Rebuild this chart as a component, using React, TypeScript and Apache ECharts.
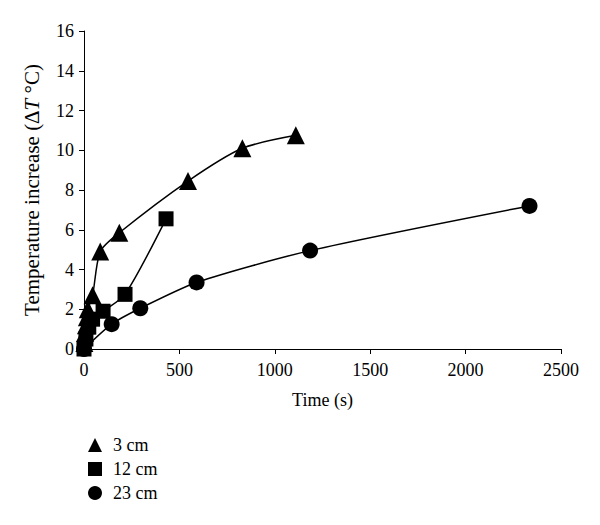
import React, { useEffect, useRef } from "react";
import * as echarts from "echarts";

const seriesNames = ["3 cm", "12 cm", "23 cm"];
const data3cm: [number, number][] = [
  [2, 0.3], [5, 0.8], [10, 1.2], [15, 1.6], [20, 2.0], [45, 2.7], [85, 4.9],
  [185, 5.85], [545, 8.45], [830, 10.1], [1110, 10.75],
];
const data12cm: [number, number][] = [
  [0, 0], [10, 0.5], [25, 1.1], [45, 1.5], [100, 1.9], [215, 2.75], [430, 6.55],
];
const data23cm: [number, number][] = [
  [0, 0], [145, 1.25], [295, 2.05], [590, 3.35], [1185, 4.95], [2335, 7.2],
];
const symbols = ["triangle", "rect", "circle"];
const symbolSizes = [18, 15, 16];

const FONT = "Liberation Serif";

export default function App() {
  const ref = useRef<HTMLDivElement>(null);
  useEffect(() => {
    if (!ref.current) return;
    const chart = echarts.init(ref.current, undefined, { renderer: "svg" });
    const all = [data3cm, data12cm, data23cm];
    chart.setOption({
      animation: false,
      backgroundColor: "#fff",
      grid: { left: 84, right: 39, top: 31, bottom: 176, containLabel: false },
      legend: {
        orient: "vertical",
        left: 83,
        top: 431,
        itemWidth: 14,
        itemHeight: 14,
        itemGap: 6,
        data: seriesNames.map((n, i) => ({ name: n, icon: symbols[i] })),
        textStyle: { fontFamily: FONT, fontSize: 18, color: "#000", padding: [0, 0, 0, 6] },
      },
      xAxis: {
        type: "value",
        min: 0,
        max: 2500,
        interval: 500,
        name: "Time (s)",
        nameLocation: "middle",
        nameGap: 42,
        nameTextStyle: { fontFamily: FONT, fontSize: 18, color: "#000" },
        axisLine: { lineStyle: { color: "#000", width: 1 } },
        axisTick: { show: true, inside: false, length: 5, lineStyle: { color: "#000" } },
        axisLabel: { fontFamily: FONT, fontSize: 18, color: "#000", margin: 12, formatter: (v: number) => String(v) },
        splitLine: { show: false },
      },
      yAxis: {
        type: "value",
        min: 0,
        max: 16,
        interval: 2,
        name: "Temperature increase (Δ{i|T} °C)",
        nameLocation: "middle",
        nameRotate: 90,
        nameGap: 42,
        nameTextStyle: {
          fontFamily: FONT,
          fontSize: 21,
          color: "#000",
          rich: { i: { fontFamily: FONT, fontSize: 21, fontStyle: "italic", color: "#000" } },
        },
        axisLine: { show: true, lineStyle: { color: "#000", width: 1 } },
        axisTick: { show: true, inside: false, length: 5, lineStyle: { color: "#000" } },
        axisLabel: { fontFamily: FONT, fontSize: 18, color: "#000", margin: 10 },
        splitLine: { show: false },
      },
      series: seriesNames.map((n, i) => ({
        name: n,
        type: "line",
        data: all[i],
        symbol: symbols[i],
        symbolSize: symbolSizes[i],
        smooth: 0.25,
        clip: false,
        itemStyle: { color: "#000" },
        lineStyle: { color: "#000", width: 1.5 },
        z: 3 - i,
      })),
    });
    return () => chart.dispose();
  }, []);
  return <div ref={ref} style={{ position: "fixed", left: 0, top: 0, width: 600, height: 525 }} />;
}
